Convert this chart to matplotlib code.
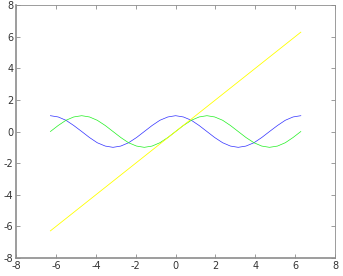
import matplotlib
matplotlib.use("Agg")
import matplotlib.pyplot as plt

plt.rcParams["axes.unicode_minus"] = False

# sample points from -2*pi to 2*pi
x_vals = [-6.28, -5.89, -5.50, -5.11, -4.71, -4.32, -3.93, -3.53, -3.14,
          -2.75, -2.36, -1.96, -1.57, -1.18, -0.79, -0.39, 0.00,
          0.39, 0.79, 1.18, 1.57, 1.96, 2.36, 2.75, 3.14,
          3.53, 3.93, 4.32, 4.71, 5.11, 5.50, 5.89, 6.28]

cos_vals = [1.00, 0.92, 0.71, 0.38, 0.00, -0.38, -0.71, -0.92, -1.00,
            -0.92, -0.71, -0.38, 0.00, 0.38, 0.71, 0.92, 1.00,
            0.92, 0.71, 0.38, 0.00, -0.38, -0.71, -0.92, -1.00,
            -0.92, -0.71, -0.38, 0.00, 0.38, 0.71, 0.92, 1.00]

sin_vals = [0.00, 0.38, 0.71, 0.92, 1.00, 0.92, 0.71, 0.38, 0.00,
            -0.38, -0.71, -0.92, -1.00, -0.92, -0.71, -0.38, 0.00,
            0.38, 0.71, 0.92, 1.00, 0.92, 0.71, 0.38, 0.00,
            -0.38, -0.71, -0.92, -1.00, -0.92, -0.71, -0.38, 0.00]

line_x = [-6.28, 6.28]
line_y = [-6.28, 6.28]

ticks = [-8, -6, -4, -2, 0, 2, 4, 6, 8]

fig = plt.figure(figsize=(3.43, 2.76), dpi=100)
ax = fig.add_axes([0.047, 0.065, 0.93, 0.917])

ax.plot(x_vals, cos_vals, color="#3030ff", linewidth=0.5)
ax.plot(x_vals, sin_vals, color="#20f020", linewidth=0.5)
ax.plot(line_x, line_y, color="#ffff00", linewidth=0.6)

ax.set_xlim(-8, 8)
ax.set_ylim(-8, 8)
ax.set_xticks(ticks)
ax.set_yticks(ticks)

for s in ax.spines.values():
    s.set_color("#8c8c8c")
    s.set_linewidth(0.6)
ax.spines["left"].set_linewidth(1.2)
ax.spines["bottom"].set_linewidth(1.2)

ax.tick_params(axis="both", direction="in", length=3, width=0.6,
               colors="#8c8c8c", labelcolor="#333333", labelsize=7,
               top=True, right=True, pad=2)

fig.savefig("out.png", dpi=100)
